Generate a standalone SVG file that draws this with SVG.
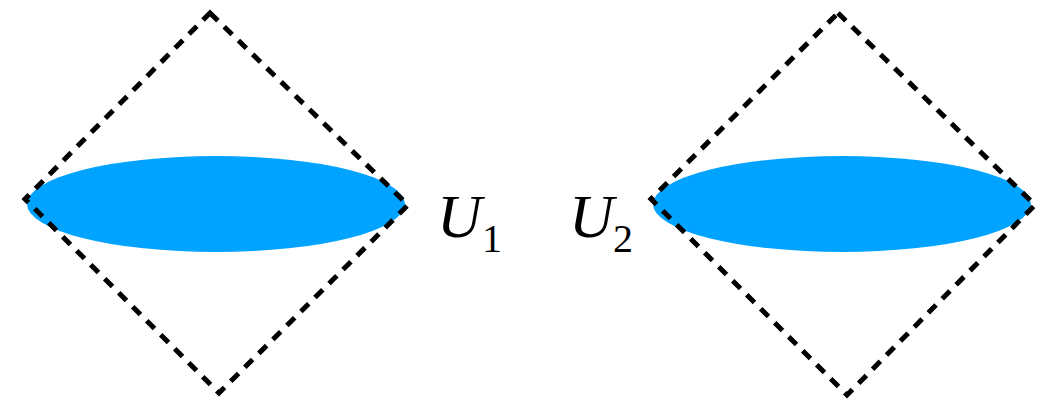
<svg xmlns="http://www.w3.org/2000/svg" width="1042" height="403" viewBox="0 0 1042 403">
<style>
.blob{fill:#00A3FF}
.dia{fill:none;stroke:#000;stroke-width:5;stroke-dasharray:11 8.8}
.lbl{font-family:"Liberation Serif","Times New Roman",serif;font-style:italic;font-weight:normal;font-size:62px;fill:#000}
.sub{font-family:"Liberation Serif","Times New Roman",serif;font-weight:normal;font-size:40px;fill:#000}
</style>
<rect width="1042" height="403" fill="#fff"/>
<g id="region1">
<ellipse class="blob" cx="216" cy="204" rx="189" ry="48"/>
<polygon class="dia" points="210,13 408,205 219,393 25,199"/>
</g>
<g id="region2">
<ellipse class="blob" cx="842" cy="204" rx="189" ry="48"/>
<polygon class="dia" points="838,13 1035,205 847,395 651,199"/>
</g>
<g id="label1"><text x="437" y="237" class="lbl">U</text><text x="482" y="252" class="sub">1</text></g>
<g id="label2"><text x="569" y="237" class="lbl">U</text><text x="613" y="252" class="sub">2</text></g>
<g id="connectors"></g>
</svg>
